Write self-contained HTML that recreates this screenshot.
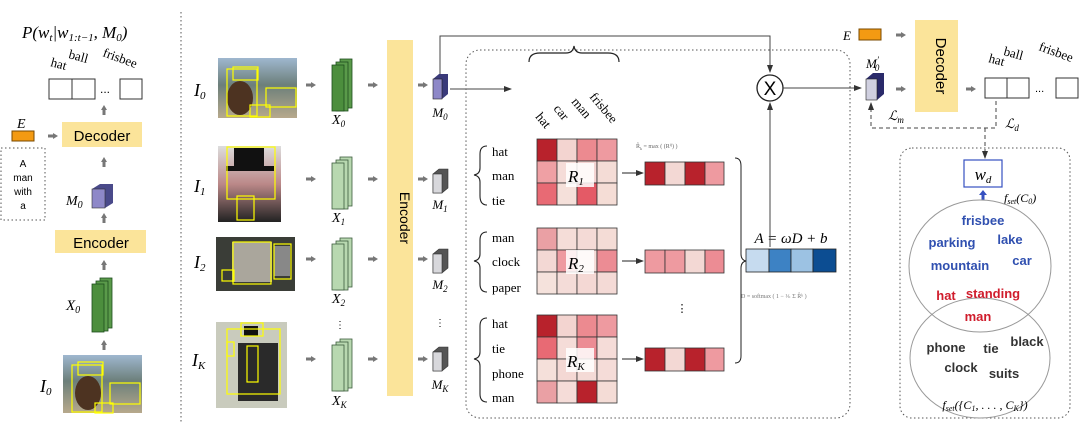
<!DOCTYPE html>
<html><head><meta charset="utf-8"><style>
body{margin:0;background:#fff}
svg{display:block}
.s{font-family:"Liberation Serif",serif}
.a{font-family:"Liberation Sans",sans-serif}
</style></head><body>
<svg width="1080" height="441" viewBox="0 0 1080 441" xmlns="http://www.w3.org/2000/svg">
<defs>
<marker id="ah" markerWidth="8" markerHeight="8" refX="7" refY="4" orient="auto"><path d="M0,1 L8,4 L0,7Z" fill="#333"/></marker>
<g id="ga"><path d="M0,-3 L5,0 L0,3Z" fill="#777"/><rect x="-5" y="-1.5" width="6" height="3" fill="#777"/></g>
<g id="gu"><path d="M-3,0 L0,-5 L3,0Z" fill="#777"/><rect x="-1.5" y="-1" width="3" height="6" fill="#777"/></g>
<linearGradient id="sky" x1="0" y1="0" x2="0" y2="1"><stop offset="0" stop-color="#9fb7cf"/><stop offset="0.45" stop-color="#6c7f7a"/><stop offset="1" stop-color="#b7a98c"/></linearGradient>
<linearGradient id="ph1" x1="0" y1="0" x2="0" y2="1"><stop offset="0" stop-color="#ddd"/><stop offset="0.5" stop-color="#b88"/><stop offset="1" stop-color="#222"/></linearGradient>
</defs>

<!-- LEFT PANEL -->
<text x="22" y="38" class="s" font-size="17" font-style="italic">P(w<tspan font-size="11" dy="3">t</tspan><tspan dy="-3">|w</tspan><tspan font-size="11" dy="3">1:t−1</tspan><tspan dy="-3">, M</tspan><tspan font-size="11" dy="3">0</tspan><tspan dy="-3">)</tspan></text>
<text x="50" y="66" class="s" font-size="13" transform="rotate(15 50 66)">hat</text>
<text x="68" y="58" class="s" font-size="13" transform="rotate(15 68 58)">ball</text>
<text x="102" y="56" class="s" font-size="13" transform="rotate(20 102 56)">frisbee</text>
<rect x="49" y="79" width="23" height="20" fill="#fff" stroke="#333"/>
<rect x="72" y="79" width="23" height="20" fill="#fff" stroke="#333"/>
<text x="100" y="93" font-size="12" class="a">...</text>
<rect x="120" y="79" width="22" height="20" fill="#fff" stroke="#333"/>
<use href="#gu" x="104" y="110"/>
<text x="17" y="128" class="s" font-size="14" font-style="italic">E</text>
<rect x="12" y="131" width="22" height="10" fill="#f39a12" stroke="#7a4a00"/>
<use href="#ga" x="53" y="136"/>
<rect x="62" y="122" width="80" height="25" fill="#fbe49a"/>
<text x="102" y="141" class="a" font-size="15" text-anchor="middle">Decoder</text>
<rect x="1" y="148" width="44" height="72" fill="none" stroke="#555" stroke-dasharray="1.5,2.5"/>
<text x="23" y="167" class="a" font-size="10" text-anchor="middle">A</text>
<text x="23" y="181" class="a" font-size="10" text-anchor="middle">man</text>
<text x="23" y="195" class="a" font-size="10" text-anchor="middle">with</text>
<text x="23" y="209" class="a" font-size="10" text-anchor="middle">a</text>
<use href="#gu" x="104" y="162"/>
<text x="66" y="205" class="s" font-size="14" font-style="italic">M<tspan font-size="10" dy="3">0</tspan></text>
<path d="M92,189 L100,184 L113,184 L113,203 L105,208 L92,208Z" fill="#4a4a8a"/>
<rect x="92" y="189" width="13" height="19" fill="#8e88c8" stroke="#333" stroke-width="0.6"/>
<use href="#gu" x="104" y="218"/>
<rect x="55" y="230" width="91" height="23" fill="#fbe49a"/>
<text x="101" y="248" class="a" font-size="15" text-anchor="middle">Encoder</text>
<use href="#gu" x="104" y="265"/>
<text x="66" y="310" class="s" font-size="15" font-style="italic">X<tspan font-size="10" dy="3">0</tspan></text>
<g stroke="#1d4d1d" stroke-width="0.8">
<rect x="100" y="278" width="12" height="50" fill="#5a9a4a"/>
<rect x="96" y="281" width="12" height="50" fill="#5a9a4a"/>
<rect x="92" y="284" width="12" height="48" fill="#4c8e3d"/>
</g>
<use href="#gu" x="104" y="345"/>
<text x="40" y="392" class="s" font-size="18" font-style="italic">I<tspan font-size="11" dy="3">0</tspan></text>
<rect x="63" y="355" width="79" height="58" fill="url(#sky)"/>
<ellipse cx="88" cy="393" rx="13" ry="17" fill="#4d3321"/>
<g fill="none" stroke="#ff0" stroke-width="1.2"><rect x="72" y="365" width="30" height="47"/><rect x="78" y="362" width="25" height="13"/><rect x="110" y="383" width="30" height="21"/><rect x="95" y="403" width="18" height="10"/></g>

<line x1="181" y1="12" x2="181" y2="422" stroke="#555" stroke-dasharray="1.5,2.5"/>

<!-- images -->
<text x="194" y="96" class="s" font-size="18" font-style="italic">I<tspan font-size="11" dy="3">0</tspan></text>
<rect x="218" y="58" width="79" height="60" fill="url(#sky)"/>
<ellipse cx="240" cy="98" rx="13" ry="17" fill="#4d3321"/>
<g fill="none" stroke="#ff0" stroke-width="1.2"><rect x="227" y="69" width="30" height="47"/><rect x="233" y="67" width="25" height="13"/><rect x="266" y="88" width="30" height="19"/><rect x="250" y="105" width="20" height="12"/></g>
<text x="194" y="192" class="s" font-size="18" font-style="italic">I<tspan font-size="11" dy="3">1</tspan></text>
<rect x="218" y="146" width="63" height="76" fill="url(#ph1)"/>
<rect x="234" y="148" width="30" height="22" fill="#111"/><rect x="226" y="166" width="48" height="5" fill="#111"/>
<g fill="none" stroke="#ff0" stroke-width="1.2"><rect x="227" y="147" width="48" height="52"/><rect x="237" y="196" width="17" height="24"/></g>
<text x="194" y="268" class="s" font-size="18" font-style="italic">I<tspan font-size="11" dy="3">2</tspan></text>
<rect x="216" y="237" width="79" height="54" fill="#3a3d37"/>
<rect x="232" y="242" width="40" height="40" fill="#aaa69c"/><rect x="274" y="246" width="16" height="30" fill="#888"/>
<g fill="none" stroke="#ff0" stroke-width="1.2"><rect x="233" y="242" width="38" height="42"/><rect x="274" y="244" width="17" height="35"/><rect x="222" y="270" width="12" height="11"/></g>
<text x="192" y="366" class="s" font-size="18" font-style="italic">I<tspan font-size="11" dy="3">K</tspan></text>
<rect x="216" y="322" width="71" height="86" fill="#c9cbbd"/>
<rect x="238" y="343" width="40" height="58" fill="#2a2a2a"/><rect x="244" y="326" width="14" height="10" fill="#111"/>
<g fill="none" stroke="#ff0" stroke-width="1.2"><rect x="227" y="329" width="53" height="65"/><rect x="241" y="323" width="22" height="13"/><rect x="247" y="346" width="11" height="36"/><rect x="227" y="342" width="7" height="14"/></g>

<!-- X stacks -->
<use href="#ga" x="311" y="85"/><use href="#ga" x="311" y="179"/><use href="#ga" x="311" y="259"/><use href="#ga" x="311" y="359"/>
<g stroke="#1d4d1d" stroke-width="0.8">
<rect x="340" y="59" width="12" height="49" fill="#5a9a4a"/><rect x="336" y="62" width="12" height="49" fill="#5a9a4a"/><rect x="332" y="65" width="12" height="46" fill="#4c8e3d"/>
</g>
<g stroke="#3d5d3d" stroke-width="0.8" fill="#b8d8b0">
<rect x="340" y="157" width="12" height="49"/><rect x="336" y="160" width="12" height="49"/><rect x="332" y="163" width="12" height="46"/>
<rect x="340" y="238" width="12" height="49"/><rect x="336" y="241" width="12" height="49"/><rect x="332" y="244" width="12" height="46"/>
<rect x="340" y="339" width="12" height="49"/><rect x="336" y="342" width="12" height="49"/><rect x="332" y="345" width="12" height="46"/>
</g>
<text x="332" y="124" class="s" font-size="14" font-style="italic">X<tspan font-size="9" dy="3">0</tspan></text>
<text x="332" y="222" class="s" font-size="14" font-style="italic">X<tspan font-size="9" dy="3">1</tspan></text>
<text x="332" y="303" class="s" font-size="14" font-style="italic">X<tspan font-size="9" dy="3">2</tspan></text>
<text x="332" y="405" class="s" font-size="14" font-style="italic">X<tspan font-size="9" dy="3">K</tspan></text>
<text x="340" y="328" font-size="10" text-anchor="middle">⋮</text>

<g><use href="#ga" x="373" y="85"/><use href="#ga" x="373" y="179"/><use href="#ga" x="373" y="259"/><use href="#ga" x="373" y="359"/></g>
<rect x="387" y="40" width="26" height="356" fill="#fbe49a"/>
<text x="400" y="218" class="a" font-size="14" text-anchor="middle" transform="rotate(90 400 218)">Encoder</text>
<g><use href="#ga" x="423" y="85"/><use href="#ga" x="423" y="179"/><use href="#ga" x="423" y="259"/><use href="#ga" x="423" y="359"/></g>

<!-- M cubes -->
<path d="M433,79 L439,74 L448,74 L448,94 L442,99 L433,99Z" fill="#3a3a7a"/><rect x="433" y="79" width="9" height="20" fill="#8e88c8" stroke="#222" stroke-width="0.6"/>
<g fill="#d8d8dc" stroke="#333" stroke-width="0.6">
<path d="M433,174 L439,169 L448,169 L448,188 L442,193 L433,193Z" fill="#555"/><rect x="433" y="174" width="9" height="19"/>
<path d="M433,254 L439,249 L448,249 L448,268 L442,273 L433,273Z" fill="#555"/><rect x="433" y="254" width="9" height="19"/>
<path d="M433,352 L439,347 L448,347 L448,366 L442,371 L433,371Z" fill="#555"/><rect x="433" y="352" width="9" height="19"/>
</g>
<text x="440" y="117" class="s" font-size="13" font-style="italic" text-anchor="middle">M<tspan font-size="9" dy="3">0</tspan></text>
<text x="440" y="209" class="s" font-size="13" font-style="italic" text-anchor="middle">M<tspan font-size="9" dy="3">1</tspan></text>
<text x="440" y="289" class="s" font-size="13" font-style="italic" text-anchor="middle">M<tspan font-size="9" dy="3">2</tspan></text>
<text x="440" y="389" class="s" font-size="13" font-style="italic" text-anchor="middle">M<tspan font-size="9" dy="3">K</tspan></text>
<text x="440" y="326" font-size="10" text-anchor="middle">⋮</text>

<path d="M440,74 L440,36 L770,36 L770,72" fill="none" stroke="#444" stroke-width="1" marker-end="url(#ah)"/>
<line x1="450" y1="89" x2="511" y2="89" stroke="#444" marker-end="url(#ah)"/>

<rect x="466" y="50" width="384" height="368" rx="14" fill="none" stroke="#555" stroke-dasharray="1.5,2.5"/>

<!-- brace top -->
<path d="M529,62 Q529,53 540,53 L566,53 Q573,53 574,46 Q575,53 582,53 L608,53 Q619,53 619,62" fill="none" stroke="#222" stroke-width="1.2"/>
<g class="s" font-size="13">
<text x="535" y="117" transform="rotate(50 535 117)">hat</text>
<text x="553" y="109" transform="rotate(50 553 109)">car</text>
<text x="571" y="102" transform="rotate(50 571 102)">man</text>
<text x="589" y="97" transform="rotate(50 589 97)">frisbee</text>
</g>

<!-- row labels -->
<g class="s" font-size="13">
<text x="492" y="156">hat</text><text x="492" y="180">man</text><text x="492" y="205">tie</text>
<text x="492" y="242">man</text><text x="492" y="266">clock</text><text x="492" y="292">paper</text>
<text x="492" y="328">hat</text><text x="492" y="353">tie</text><text x="492" y="378">phone</text><text x="492" y="402">man</text>
</g>
<g fill="none" stroke="#222" stroke-width="1.1">
<path d="M487,146 Q480,146 480,154 L480,168 Q480,174 474,175 Q480,176 480,182 L480,196 Q480,205 487,205"/>
<path d="M487,232 Q480,232 480,240 L480,254 Q480,260 474,261 Q480,262 480,268 L480,284 Q480,292 487,292"/>
<path d="M487,318 Q480,318 480,326 L480,352 Q480,358 474,359 Q480,360 480,366 L480,394 Q480,402 487,402"/>
</g>

<!-- R1 -->
<g stroke="#333" stroke-width="0.8">
<rect x="537" y="139" width="20" height="22" fill="#b8222c"/><rect x="557" y="139" width="20" height="22" fill="#f3d4d0"/><rect x="577" y="139" width="20" height="22" fill="#ec8a90"/><rect x="597" y="139" width="20" height="22" fill="#ee9aa0"/>
<rect x="537" y="161" width="20" height="22" fill="#efa0a4"/><rect x="557" y="161" width="20" height="22" fill="#f5dcd8"/><rect x="577" y="161" width="20" height="22" fill="#f4d4d2"/><rect x="597" y="161" width="20" height="22" fill="#f4dcd6"/>
<rect x="537" y="183" width="20" height="22" fill="#e86a74"/><rect x="557" y="183" width="20" height="22" fill="#f5e0da"/><rect x="577" y="183" width="20" height="22" fill="#e45a66"/><rect x="597" y="183" width="20" height="22" fill="#f5ddd6"/>
<!-- R2 -->
<rect x="537" y="228" width="20" height="22" fill="#eaa0a4"/><rect x="557" y="228" width="20" height="22" fill="#f5ddd8"/><rect x="577" y="228" width="20" height="22" fill="#f4dad6"/><rect x="597" y="228" width="20" height="22" fill="#f4dcd6"/>
<rect x="537" y="250" width="20" height="22" fill="#f3d8d4"/><rect x="557" y="250" width="20" height="22" fill="#ee9aa0"/><rect x="577" y="250" width="20" height="22" fill="#f5dcd8"/><rect x="597" y="250" width="20" height="22" fill="#ec8c94"/>
<rect x="537" y="272" width="20" height="22" fill="#f5e2dc"/><rect x="557" y="272" width="20" height="22" fill="#f4dcd8"/><rect x="577" y="272" width="20" height="22" fill="#f4d8d4"/><rect x="597" y="272" width="20" height="22" fill="#f4dad6"/>
<!-- RK -->
<rect x="537" y="315" width="20" height="22" fill="#b8222c"/><rect x="557" y="315" width="20" height="22" fill="#f3d4d0"/><rect x="577" y="315" width="20" height="22" fill="#ec8a90"/><rect x="597" y="315" width="20" height="22" fill="#ee9aa0"/>
<rect x="537" y="337" width="20" height="22" fill="#e86a74"/><rect x="557" y="337" width="20" height="22" fill="#f5dcd8"/><rect x="577" y="337" width="20" height="22" fill="#ec8c94"/><rect x="597" y="337" width="20" height="22" fill="#f5dcd8"/>
<rect x="537" y="359" width="20" height="22" fill="#f5e0da"/><rect x="557" y="359" width="20" height="22" fill="#f4d8d4"/><rect x="577" y="359" width="20" height="22" fill="#f4dad6"/><rect x="597" y="359" width="20" height="22" fill="#f5dcd8"/>
<rect x="537" y="381" width="20" height="22" fill="#eaa0a4"/><rect x="557" y="381" width="20" height="22" fill="#f5dcd8"/><rect x="577" y="381" width="20" height="22" fill="#b8222c"/><rect x="597" y="381" width="20" height="22" fill="#f4dcd6"/>
</g>
<g class="s" font-size="17" font-style="italic">
<rect x="566" y="163" width="28" height="24" fill="#fff" opacity="0.85"/><text x="568" y="182">R<tspan font-size="11" dy="3">1</tspan></text>
<rect x="566" y="250" width="28" height="24" fill="#fff" opacity="0.85"/><text x="568" y="269">R<tspan font-size="11" dy="3">2</tspan></text>
<rect x="566" y="348" width="28" height="24" fill="#fff" opacity="0.85"/><text x="567" y="367">R<tspan font-size="11" dy="3">K</tspan></text>
</g>

<line x1="622" y1="173" x2="643" y2="173" stroke="#222" marker-end="url(#ah)"/>
<line x1="622" y1="261" x2="643" y2="261" stroke="#222" marker-end="url(#ah)"/>
<line x1="622" y1="359" x2="643" y2="359" stroke="#222" marker-end="url(#ah)"/>
<text x="636" y="148" class="s" font-size="6" fill="#666">R̂<tspan font-size="4" dy="2">k</tspan><tspan dy="-2"> = max ( (R</tspan><tspan font-size="4" dy="-2">ij</tspan><tspan dy="2">) ) </tspan></text>
<g stroke="#333" stroke-width="0.8">
<rect x="645" y="162" width="20" height="23" fill="#b8222c"/><rect x="665" y="162" width="20" height="23" fill="#f3d8d4"/><rect x="685" y="162" width="20" height="23" fill="#b8222c"/><rect x="705" y="162" width="19" height="23" fill="#ee9aa0"/>
<rect x="645" y="250" width="20" height="23" fill="#ee9aa0"/><rect x="665" y="250" width="20" height="23" fill="#ee9aa0"/><rect x="685" y="250" width="20" height="23" fill="#f3d8d4"/><rect x="705" y="250" width="19" height="23" fill="#ec8c94"/>
<rect x="645" y="348" width="20" height="23" fill="#b8222c"/><rect x="665" y="348" width="20" height="23" fill="#f3d8d4"/><rect x="685" y="348" width="20" height="23" fill="#b8222c"/><rect x="705" y="348" width="19" height="23" fill="#ee9aa0"/>
</g>
<text x="682" y="312" font-size="11" text-anchor="middle">⋮</text>
<path d="M735,158 Q741,158 741,166 L741,254 Q741,260 746,261 Q741,262 741,268 L741,356 Q741,363 735,363" fill="none" stroke="#222" stroke-width="1"/>

<text x="791" y="243" class="s" font-size="15" font-style="italic" text-anchor="middle">A = ωD + b</text>
<g stroke="#222" stroke-width="0.8">
<rect x="746" y="249" width="23" height="23" fill="#c6dbef"/><rect x="769" y="249" width="22" height="23" fill="#3d82c4"/><rect x="791" y="249" width="22" height="23" fill="#9cc2e3"/><rect x="813" y="249" width="23" height="23" fill="#0c4d92"/>
</g>
<text x="741" y="298" class="s" font-size="6" fill="#777">D = softmax ( 1 − ¹⁄ₖ Σ R̂ᵏ )</text>
<line x1="770" y1="247" x2="770" y2="103" stroke="#444" marker-end="url(#ah)"/>
<circle cx="770" cy="88" r="13" fill="#fff" stroke="#222" stroke-width="1.3"/>
<text x="770" y="95" class="a" font-size="19" text-anchor="middle">X</text>
<line x1="783" y1="88" x2="861" y2="88" stroke="#444" marker-end="url(#ah)"/>

<!-- RIGHT -->
<text x="843" y="40" class="s" font-size="13" font-style="italic">E</text>
<rect x="859" y="29" width="22" height="11" fill="#f39a12" stroke="#7a4a00"/>
<use href="#ga" x="901" y="35"/>
<text x="866" y="68" class="s" font-size="13" font-style="italic">M<tspan font-size="9" dy="-5">′</tspan><tspan font-size="9" dy="8" dx="-4">0</tspan></text>
<path d="M866,79 L873,73 L884,73 L884,94 L877,100 L866,100Z" fill="#2a2a6a"/><rect x="866" y="79" width="11" height="21" fill="#d0d0e0" stroke="#222" stroke-width="0.6"/>
<use href="#ga" x="901" y="89"/>
<rect x="915" y="20" width="43" height="92" fill="#fbe49a"/>
<text x="936" y="66" class="a" font-size="15" text-anchor="middle" transform="rotate(90 936 66)">Decoder</text>
<use href="#ga" x="971" y="89"/>
<rect x="985" y="78" width="22" height="20" fill="#fff" stroke="#333"/>
<rect x="1007" y="78" width="22" height="20" fill="#fff" stroke="#333"/>
<text x="1035" y="92" class="a" font-size="11">...</text>
<rect x="1056" y="78" width="22" height="20" fill="#fff" stroke="#333"/>
<text x="988" y="62" class="s" font-size="13" transform="rotate(15 988 62)">hat</text>
<text x="1003" y="55" class="s" font-size="13" transform="rotate(15 1003 55)">ball</text>
<text x="1038" y="50" class="s" font-size="13" transform="rotate(20 1038 50)">frisbee</text>
<path d="M996,101 L996,128 L871,128 L871,103" fill="none" stroke="#444" stroke-dasharray="4,3" marker-end="url(#ah)"/>
<line x1="985" y1="128" x2="985" y2="158" stroke="#444" stroke-dasharray="4,3" marker-end="url(#ah)"/>
<text x="888" y="120" class="s" font-size="13" font-style="italic">ℒ<tspan font-size="9" dy="3">m</tspan></text>
<text x="1005" y="128" class="s" font-size="13" font-style="italic">ℒ<tspan font-size="9" dy="3">d</tspan></text>

<rect x="900" y="148" width="170" height="270" rx="12" fill="none" stroke="#555" stroke-dasharray="1.5,2.5"/>
<rect x="964" y="160" width="38" height="27" fill="#fff" stroke="#3550c0" stroke-width="1.2"/>
<text x="983" y="180" class="s" font-size="17" font-style="italic" text-anchor="middle">w<tspan font-size="11" dy="3">d</tspan></text>
<path d="M983,190 L987,195 L984.5,195 L984.5,200 L981.5,200 L981.5,195 L979,195Z" fill="#3550c0"/>
<text x="1004" y="202" class="s" font-size="12" font-style="italic">f<tspan font-size="8" dy="2">set</tspan><tspan dy="-2">(C</tspan><tspan font-size="8" dy="2">0</tspan><tspan dy="-2">)</tspan></text>
<ellipse cx="980" cy="266" rx="71" ry="66" fill="none" stroke="#999"/>
<ellipse cx="980" cy="358" rx="70" ry="60" fill="none" stroke="#999"/>
<g class="a" font-weight="bold" font-size="13">
<g fill="#3050b0"><text x="983" y="225" text-anchor="middle">frisbee</text><text x="952" y="247" text-anchor="middle">parking</text><text x="1010" y="244" text-anchor="middle">lake</text><text x="960" y="270" text-anchor="middle">mountain</text><text x="1022" y="265" text-anchor="middle">car</text></g>
<g fill="#d01c2c"><text x="946" y="300" text-anchor="middle">hat</text><text x="993" y="298" text-anchor="middle">standing</text><text x="978" y="321" text-anchor="middle">man</text></g>
<g fill="#333"><text x="946" y="352" text-anchor="middle">phone</text><text x="991" y="353" text-anchor="middle">tie</text><text x="1027" y="346" text-anchor="middle">black</text><text x="961" y="372" text-anchor="middle">clock</text><text x="1004" y="378" text-anchor="middle">suits</text></g>
</g>
<text x="985" y="409" class="s" font-size="12" font-style="italic" text-anchor="middle">f<tspan font-size="8" dy="2">set</tspan><tspan dy="-2">({C</tspan><tspan font-size="8" dy="2">1</tspan><tspan dy="-2">, . . . , C</tspan><tspan font-size="8" dy="2">K</tspan><tspan dy="-2">})</tspan></text>
</svg>
</body></html>
